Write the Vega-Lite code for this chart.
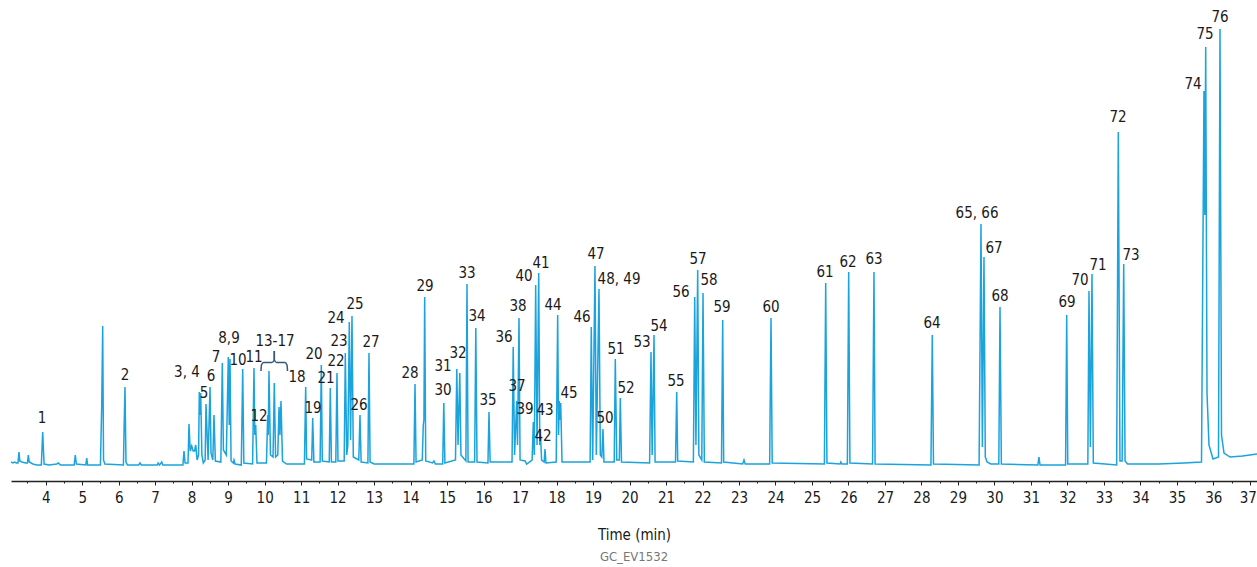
{
  "$schema": "https://vega.github.io/schema/vega-lite/v6.json",
  "width": 1246,
  "height": 481,
  "autosize": {"type": "none"},
  "padding": {"left": 11, "top": 0, "right": 0, "bottom": 86},
  "background": "white",
  "config": {"view": {"stroke": null}, "font": "DejaVu Sans Condensed, Roboto, sans-serif"},
  "title": {"text": "GC_EV1532", "orient": "bottom", "anchor": "middle", "color": "#777777", "fontSize": 13, "fontWeight": "normal", "offset": 9, "font": "DejaVu Sans Condensed, Roboto, sans-serif"},
  "datasets": {
    "trace": [
      {"t": 3.049, "v": 3}, {"t": 3.1, "v": 2}, {"t": 3.15, "v": 3}, {"t": 3.2, "v": 2}, {"t": 3.24, "v": 2}, {"t": 3.268, "v": 13}, {"t": 3.29, "v": 4}, {"t": 3.35, "v": 3}, {"t": 3.45, "v": 2}, {"t": 3.5, "v": 2}, {"t": 3.523, "v": 10}, {"t": 3.55, "v": 3}, {"t": 3.65, "v": 1}, {"t": 3.75, "v": 0}, {"t": 3.88, "v": 0}, {"t": 3.918, "v": 33}, {"t": 3.955, "v": 1},
      {"t": 4.1, "v": 0}, {"t": 4.3, "v": 1}, {"t": 4.35, "v": 2}, {"t": 4.4, "v": 0}, {"t": 4.78, "v": 0}, {"t": 4.811, "v": 10}, {"t": 4.84, "v": 1}, {"t": 5.1, "v": 0}, {"t": 5.124, "v": 7}, {"t": 5.15, "v": 0}, {"t": 5.5, "v": 0}, {"t": 5.535, "v": 60}, {"t": 5.562, "v": 139}, {"t": 5.585, "v": 5}, {"t": 5.62, "v": 1},
      {"t": 6.13, "v": 0}, {"t": 6.15, "v": 40}, {"t": 6.173, "v": 78}, {"t": 6.2, "v": 3}, {"t": 6.24, "v": 0}, {"t": 6.55, "v": 0}, {"t": 6.584, "v": 2}, {"t": 6.62, "v": 0}, {"t": 7.06, "v": 0}, {"t": 7.08, "v": 2}, {"t": 7.12, "v": 0}, {"t": 7.18, "v": 3}, {"t": 7.21, "v": 0},
      {"t": 7.76, "v": 0}, {"t": 7.79, "v": 14}, {"t": 7.82, "v": 2}, {"t": 7.9, "v": 2}, {"t": 7.927, "v": 41}, {"t": 7.96, "v": 14}, {"t": 8.001, "v": 19}, {"t": 8.04, "v": 14}, {"t": 8.08, "v": 14}, {"t": 8.111, "v": 20}, {"t": 8.15, "v": 5}, {"t": 8.19, "v": 10}, {"t": 8.209, "v": 73}, {"t": 8.228, "v": 50}, {"t": 8.248, "v": 72}, {"t": 8.28, "v": 10}, {"t": 8.32, "v": 2}, {"t": 8.37, "v": 5}, {"t": 8.393, "v": 61}, {"t": 8.45, "v": 5}, {"t": 8.503, "v": 78}, {"t": 8.53, "v": 12}, {"t": 8.58, "v": 5}, {"t": 8.612, "v": 50}, {"t": 8.65, "v": 4},
      {"t": 8.8, "v": 3}, {"t": 8.84, "v": 102}, {"t": 8.87, "v": 15}, {"t": 8.95, "v": 10}, {"t": 9.004, "v": 108}, {"t": 9.03, "v": 40}, {"t": 9.051, "v": 106}, {"t": 9.08, "v": 4}, {"t": 9.14, "v": 2}, {"t": 9.16, "v": 5}, {"t": 9.19, "v": 1}, {"t": 9.36, "v": 0}, {"t": 9.399, "v": 96}, {"t": 9.43, "v": 2}, {"t": 9.67, "v": 1}, {"t": 9.708, "v": 97}, {"t": 9.73, "v": 30}, {"t": 9.755, "v": 40}, {"t": 9.79, "v": 2},
      {"t": 10.05, "v": 2}, {"t": 10.084, "v": 50}, {"t": 10.1, "v": 30}, {"t": 10.119, "v": 94}, {"t": 10.16, "v": 10}, {"t": 10.23, "v": 8}, {"t": 10.265, "v": 82}, {"t": 10.3, "v": 8}, {"t": 10.36, "v": 10}, {"t": 10.394, "v": 58}, {"t": 10.42, "v": 30}, {"t": 10.448, "v": 64}, {"t": 10.49, "v": 4}, {"t": 10.6, "v": 1},
      {"t": 11.09, "v": 1}, {"t": 11.125, "v": 78}, {"t": 11.15, "v": 6}, {"t": 11.29, "v": 5}, {"t": 11.317, "v": 47}, {"t": 11.35, "v": 3}, {"t": 11.52, "v": 3}, {"t": 11.553, "v": 100}, {"t": 11.58, "v": 4}, {"t": 11.77, "v": 3}, {"t": 11.8, "v": 77}, {"t": 11.83, "v": 3}, {"t": 11.95, "v": 3}, {"t": 11.983, "v": 92}, {"t": 12.01, "v": 4}, {"t": 12.18, "v": 4}, {"t": 12.211, "v": 112}, {"t": 12.25, "v": 10}, {"t": 12.28, "v": 20}, {"t": 12.32, "v": 143}, {"t": 12.355, "v": 25}, {"t": 12.394, "v": 149}, {"t": 12.43, "v": 8}, {"t": 12.58, "v": 5}, {"t": 12.613, "v": 50}, {"t": 12.645, "v": 3}, {"t": 12.83, "v": 2}, {"t": 12.86, "v": 112}, {"t": 12.89, "v": 3}, {"t": 13.0, "v": 1},
      {"t": 14.09, "v": 1}, {"t": 14.121, "v": 81}, {"t": 14.15, "v": 3}, {"t": 14.32, "v": 5}, {"t": 14.348, "v": 40}, {"t": 14.365, "v": 45}, {"t": 14.386, "v": 168}, {"t": 14.415, "v": 4}, {"t": 14.6, "v": 2}, {"t": 14.64, "v": 4}, {"t": 14.68, "v": 1}, {"t": 14.88, "v": 1}, {"t": 14.91, "v": 62}, {"t": 14.94, "v": 2},
      {"t": 15.23, "v": 5}, {"t": 15.266, "v": 96}, {"t": 15.3, "v": 20}, {"t": 15.348, "v": 92}, {"t": 15.38, "v": 10}, {"t": 15.515, "v": 4}, {"t": 15.546, "v": 181}, {"t": 15.575, "v": 3}, {"t": 15.755, "v": 3}, {"t": 15.787, "v": 137}, {"t": 15.82, "v": 3}, {"t": 16.12, "v": 2}, {"t": 16.149, "v": 53}, {"t": 16.18, "v": 3},
      {"t": 16.78, "v": 3}, {"t": 16.812, "v": 118}, {"t": 16.85, "v": 10}, {"t": 16.908, "v": 64}, {"t": 16.93, "v": 20}, {"t": 16.971, "v": 147}, {"t": 17.0, "v": 5}, {"t": 17.14, "v": 4}, {"t": 17.18, "v": 1}, {"t": 17.33, "v": 5}, {"t": 17.363, "v": 43}, {"t": 17.39, "v": 10}, {"t": 17.428, "v": 180}, {"t": 17.465, "v": 20}, {"t": 17.511, "v": 192}, {"t": 17.54, "v": 20}, {"t": 17.56, "v": 30}, {"t": 17.59, "v": 5}, {"t": 17.66, "v": 3}, {"t": 17.683, "v": 16}, {"t": 17.71, "v": 2},
      {"t": 17.99, "v": 3}, {"t": 18.031, "v": 150}, {"t": 18.055, "v": 30}, {"t": 18.075, "v": 64}, {"t": 18.095, "v": 45}, {"t": 18.114, "v": 62}, {"t": 18.15, "v": 3}, {"t": 18.92, "v": 3}, {"t": 18.952, "v": 138}, {"t": 18.99, "v": 5}, {"t": 19.053, "v": 199}, {"t": 19.09, "v": 10}, {"t": 19.163, "v": 176}, {"t": 19.2, "v": 10}, {"t": 19.24, "v": 8}, {"t": 19.272, "v": 36}, {"t": 19.3, "v": 3}, {"t": 19.58, "v": 3}, {"t": 19.61, "v": 106}, {"t": 19.65, "v": 5}, {"t": 19.72, "v": 5}, {"t": 19.747, "v": 67}, {"t": 19.78, "v": 3},
      {"t": 20.55, "v": 2}, {"t": 20.588, "v": 113}, {"t": 20.62, "v": 10}, {"t": 20.671, "v": 130}, {"t": 20.7, "v": 3}, {"t": 21.26, "v": 3}, {"t": 21.293, "v": 73}, {"t": 21.32, "v": 4}, {"t": 21.75, "v": 3}, {"t": 21.786, "v": 168}, {"t": 21.82, "v": 20}, {"t": 21.868, "v": 195}, {"t": 21.9, "v": 10}, {"t": 21.98, "v": 5}, {"t": 22.014, "v": 172}, {"t": 22.05, "v": 3}, {"t": 22.52, "v": 2}, {"t": 22.553, "v": 145}, {"t": 22.58, "v": 3},
      {"t": 23.1, "v": 1}, {"t": 23.137, "v": 5}, {"t": 23.17, "v": 1}, {"t": 23.84, "v": 1}, {"t": 23.877, "v": 147}, {"t": 23.91, "v": 2}, {"t": 25.34, "v": 1}, {"t": 25.376, "v": 182}, {"t": 25.41, "v": 2}, {"t": 25.77, "v": 1}, {"t": 25.79, "v": 3}, {"t": 25.82, "v": 1}, {"t": 25.97, "v": 1}, {"t": 26.006, "v": 193}, {"t": 26.04, "v": 2}, {"t": 26.66, "v": 1}, {"t": 26.699, "v": 193}, {"t": 26.73, "v": 1},
      {"t": 28.26, "v": 0}, {"t": 28.297, "v": 130}, {"t": 28.33, "v": 1}, {"t": 29.58, "v": 0}, {"t": 29.632, "v": 241}, {"t": 29.67, "v": 18}, {"t": 29.714, "v": 208}, {"t": 29.75, "v": 8}, {"t": 29.8, "v": 3}, {"t": 29.9, "v": 1}, {"t": 30.12, "v": 1}, {"t": 30.153, "v": 158}, {"t": 30.19, "v": 1},
      {"t": 31.19, "v": 0}, {"t": 31.22, "v": 8}, {"t": 31.25, "v": 0}, {"t": 31.95, "v": 0}, {"t": 31.981, "v": 150}, {"t": 32.01, "v": 1}, {"t": 32.56, "v": 1}, {"t": 32.592, "v": 174}, {"t": 32.63, "v": 18}, {"t": 32.674, "v": 191}, {"t": 32.71, "v": 2},
      {"t": 33.35, "v": 0}, {"t": 33.395, "v": 333}, {"t": 33.44, "v": 4}, {"t": 33.5, "v": 4}, {"t": 33.543, "v": 201}, {"t": 33.58, "v": 4}, {"t": 33.65, "v": 1}, {"t": 34.5, "v": 1}, {"t": 35.2, "v": 2},
      {"t": 35.675, "v": 3}, {"t": 35.743, "v": 374}, {"t": 35.766, "v": 250}, {"t": 35.79, "v": 418}, {"t": 35.826, "v": 72}, {"t": 35.88, "v": 20}, {"t": 35.99, "v": 6}, {"t": 36.141, "v": 8}, {"t": 36.182, "v": 436}, {"t": 36.223, "v": 30}, {"t": 36.292, "v": 12}, {"t": 36.456, "v": 8}, {"t": 36.8, "v": 9}, {"t": 37.196, "v": 11}
    ],
    "labels": [
      {"t": 3.899, "v": 47, "lab": "1"}, {"t": 6.173, "v": 90, "lab": "2"}, {"t": 7.872, "v": 93, "lab": "3, 4"}, {"t": 8.338, "v": 72, "lab": "5"}, {"t": 8.53, "v": 89, "lab": "6"}, {"t": 8.667, "v": 108, "lab": "7"}, {"t": 9.023, "v": 127, "lab": "8,9"}, {"t": 9.27, "v": 105, "lab": "10"}, {"t": 9.709, "v": 108, "lab": "11"}, {"t": 9.846, "v": 49, "lab": "12"}, {"t": 10.284, "v": 124, "lab": "13-17"},
      {"t": 10.887, "v": 88, "lab": "18"}, {"t": 11.326, "v": 57, "lab": "19"}, {"t": 11.353, "v": 111, "lab": "20"}, {"t": 11.682, "v": 87, "lab": "21"}, {"t": 11.956, "v": 104, "lab": "22"}, {"t": 12.038, "v": 124, "lab": "23"}, {"t": 11.956, "v": 147, "lab": "24"}, {"t": 12.477, "v": 161, "lab": "25"}, {"t": 12.586, "v": 60, "lab": "26"}, {"t": 12.915, "v": 123, "lab": "27"},
      {"t": 13.984, "v": 92, "lab": "28"}, {"t": 14.395, "v": 179, "lab": "29"}, {"t": 14.888, "v": 75, "lab": "30"}, {"t": 14.888, "v": 99, "lab": "31"}, {"t": 15.299, "v": 112, "lab": "32"}, {"t": 15.546, "v": 192, "lab": "33"}, {"t": 15.82, "v": 149, "lab": "34"}, {"t": 16.121, "v": 65, "lab": "35"}, {"t": 16.56, "v": 128, "lab": "36"}, {"t": 16.916, "v": 79, "lab": "37"},
      {"t": 16.943, "v": 159, "lab": "38"}, {"t": 17.135, "v": 56, "lab": "39"}, {"t": 17.108, "v": 189, "lab": "40"}, {"t": 17.574, "v": 202, "lab": "41"}, {"t": 17.629, "v": 29, "lab": "42"}, {"t": 17.683, "v": 55, "lab": "43"}, {"t": 17.903, "v": 160, "lab": "44"}, {"t": 18.342, "v": 72, "lab": "45"}, {"t": 18.698, "v": 148, "lab": "46"}, {"t": 19.082, "v": 211, "lab": "47"},
      {"t": 19.712, "v": 186, "lab": "48, 49"}, {"t": 19.329, "v": 47, "lab": "50"}, {"t": 19.63, "v": 116, "lab": "51"}, {"t": 19.904, "v": 77, "lab": "52"}, {"t": 20.343, "v": 123, "lab": "53"}, {"t": 20.809, "v": 139, "lab": "54"}, {"t": 21.275, "v": 84, "lab": "55"}, {"t": 21.412, "v": 173, "lab": "56"}, {"t": 21.878, "v": 206, "lab": "57"}, {"t": 22.179, "v": 185, "lab": "58"},
      {"t": 22.535, "v": 158, "lab": "59"}, {"t": 23.878, "v": 158, "lab": "60"}, {"t": 25.358, "v": 193, "lab": "61"}, {"t": 25.988, "v": 203, "lab": "62"}, {"t": 26.701, "v": 206, "lab": "63"}, {"t": 28.29, "v": 142, "lab": "64"}, {"t": 29.523, "v": 252, "lab": "65, 66"}, {"t": 29.989, "v": 217, "lab": "67"}, {"t": 30.153, "v": 169, "lab": "68"}, {"t": 31.989, "v": 163, "lab": "69"},
      {"t": 32.345, "v": 185, "lab": "70"}, {"t": 32.839, "v": 200, "lab": "71"}, {"t": 33.387, "v": 348, "lab": "72"}, {"t": 33.743, "v": 210, "lab": "73"}, {"t": 35.442, "v": 381, "lab": "74"}, {"t": 35.771, "v": 431, "lab": "75"}, {"t": 36.182, "v": 448, "lab": "76"}
    ],
    "brace": [
      {"t": 9.9, "v": 94, "seg": "a", "o": 1}, {"t": 9.913, "v": 100, "seg": "a", "o": 2}, {"t": 9.969, "v": 102.5, "seg": "a", "o": 3}, {"t": 10.202, "v": 102.5, "seg": "a", "o": 4}, {"t": 10.265, "v": 105, "seg": "a", "o": 5}, {"t": 10.265, "v": 114, "seg": "a", "o": 6},
      {"t": 10.265, "v": 114, "seg": "b", "o": 1}, {"t": 10.265, "v": 105, "seg": "b", "o": 2}, {"t": 10.325, "v": 102.5, "seg": "b", "o": 3}, {"t": 10.558, "v": 102.5, "seg": "b", "o": 4}, {"t": 10.613, "v": 100, "seg": "b", "o": 5}, {"t": 10.627, "v": 94, "seg": "b", "o": 6}
    ]
  },
  "resolve": {"axis": {"x": "independent"}},
  "layer": [
    {
      "data": {"name": "trace"},
      "mark": {"type": "line", "color": "#1aa3dd", "strokeWidth": 1.5, "clip": true},
      "encoding": {
        "x": {"field": "t", "type": "quantitative", "scale": {"domain": [3.049, 37.196], "nice": false, "zero": false},
          "axis": {"orient": "bottom", "values": [3.5, 4.5, 5.5, 6.5, 7.5, 8.5, 9.5, 10.5, 11.5, 12.5, 13.5, 14.5, 15.5, 16.5, 17.5, 18.5, 19.5, 20.5, 21.5, 22.5, 23.5, 24.5, 25.5, 26.5, 27.5, 28.5, 29.5, 30.5, 31.5, 32.5, 33.5, 34.5, 35.5, 36.5], "tickSize": 2, "tickColor": "#222222", "labels": false, "domain": false, "grid": false, "title": null}},
        "y": {"field": "v", "type": "quantitative", "scale": {"domain": [-16, 465], "nice": false, "zero": false}, "axis": null}
      }
    },
    {
      "data": {"name": "brace"},
      "mark": {"type": "line", "color": "#34597a", "strokeWidth": 1.5, "interpolate": "monotone"},
      "encoding": {
        "x": {"field": "t", "type": "quantitative", "scale": {"domain": [3.049, 37.196], "nice": false, "zero": false}, "axis": null},
        "y": {"field": "v", "type": "quantitative", "scale": {"domain": [-16, 465], "nice": false, "zero": false}, "axis": null},
        "detail": {"field": "seg"},
        "order": {"field": "o"}
      }
    },
    {
      "data": {"name": "labels"},
      "mark": {"type": "text", "fontSize": 15, "color": "#1a1a1a", "baseline": "middle", "align": "center", "font": "DejaVu Sans Condensed, Roboto, sans-serif"},
      "encoding": {
        "x": {"field": "t", "type": "quantitative", "scale": {"domain": [3.049, 37.196], "nice": false, "zero": false},
          "axis": {"orient": "bottom", "values": [4, 5, 6, 7, 8, 9, 10, 11, 12, 13, 14, 15, 16, 17, 18, 19, 20, 21, 22, 23, 24, 25, 26, 27, 28, 29, 30, 31, 32, 33, 34, 35, 36, 37], "format": "d", "tickSize": 4, "tickColor": "#222222", "domainColor": "#222222", "domainWidth": 1.5, "labelFontSize": 15, "labelColor": "#1a1a1a", "labelPadding": 5, "labelOffset": {"condition": {"test": "datum.value == 37", "value": -2}, "value": 0}, "labelFont": "DejaVu Sans Condensed, Roboto, sans-serif", "labelFlush": false, "grid": false, "title": "Time (min)", "titleFontSize": 15, "titleFontWeight": "normal", "titleColor": "#1a1a1a", "titleFont": "DejaVu Sans Condensed, Roboto, sans-serif", "titlePadding": 22}},
        "y": {"field": "v", "type": "quantitative", "scale": {"domain": [-16, 465], "nice": false, "zero": false}, "axis": null},
        "text": {"field": "lab"}
      }
    }
  ]
}
